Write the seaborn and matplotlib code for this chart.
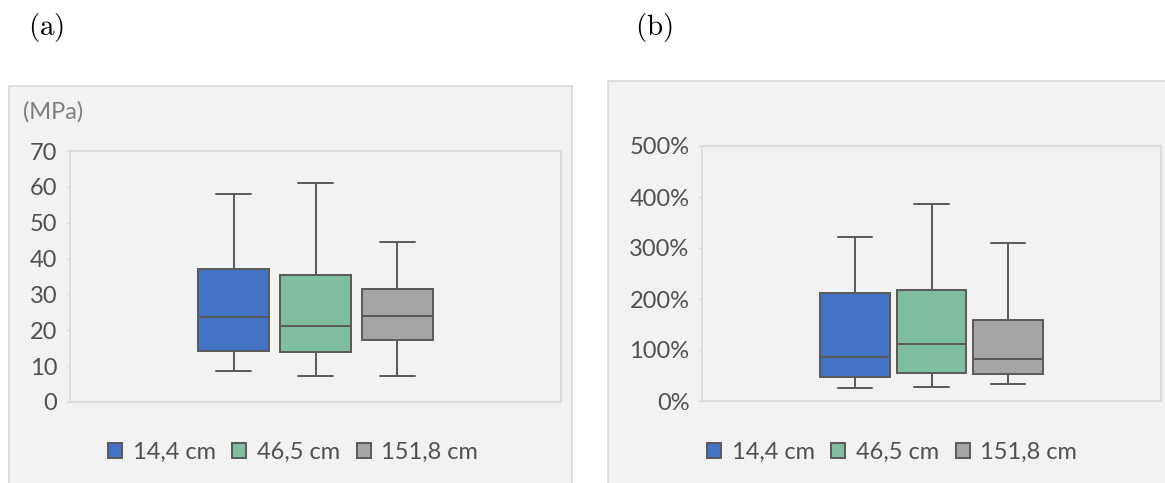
import matplotlib
matplotlib.use("Agg")
import matplotlib.pyplot as plt
from matplotlib.patches import Rectangle
from matplotlib.ticker import FuncFormatter
import numpy as np
import pandas as pd
import seaborn as sns

# Five-number summaries (min, Q1, median, Q3, max) per specimen length
lengths = ["14,4 cm", "46,5 cm", "151,8 cm"]
strength_mpa = {
    "14,4 cm": [8.7, 14.1, 23.6, 37.1, 58.0],
    "46,5 cm": [7.3, 14.0, 21.3, 35.3, 61.0],
    "151,8 cm": [7.3, 17.4, 24.1, 31.5, 44.5],
}
strain_pct = {
    "14,4 cm": [26, 48, 86, 212, 321],
    "46,5 cm": [28, 54, 111, 218, 386],
    "151,8 cm": [33, 53, 82, 159, 310],
}
strength_ticks = [0, 10, 20, 30, 40, 50, 60, 70]
strain_ticks = [0, 100, 200, 300, 400, 500]

palette = {"14,4 cm": "#4472C4", "46,5 cm": "#80BD9E", "151,8 cm": "#A5A5A5"}
EDGE = "#595959"
PANEL = "#F2F2F2"
BORDER = "#D9D9D9"
TEXT = "#505050"
FONT = ["Lato", "DejaVu Sans"]

sns.set_theme(style="white")
plt.rcParams["font.family"] = FONT
plt.rcParams["mathtext.fontset"] = "cm"

W, H = 1165, 483
fig = plt.figure(figsize=(W / 100, H / 100), dpi=100)
fig.patch.set_facecolor("white")


def px_rect(x0, y0, x1, y1):
    return [x0 / W, 1 - y1 / H, (x1 - x0) / W, (y1 - y0) / H]


def long_frame(summary):
    rows = []
    for name in lengths:
        for v in summary[name]:
            rows.append({"grp": "", "length": name, "value": v})
    return pd.DataFrame(rows)


# Panel backgrounds, kept beneath the axes
for x0, y0, x1, y1 in [(9, 86, 572, 495), (608, 81, 1175, 495)]:
    l, b, w, h = px_rect(x0, y0, x1, y1)
    fig.patches.append(Rectangle((l, b), w, h, transform=fig.transFigure,
                                 facecolor=PANEL, edgecolor=BORDER, lw=1.2,
                                 zorder=-5))


def draw_panel(rect, summary, ticks, fmt, gap, legend_x):
    ax = fig.add_axes(px_rect(*rect))
    ax.set_zorder(2)
    ax.set_facecolor(PANEL)
    sns.boxplot(data=long_frame(summary), x="grp", y="value", hue="length",
                hue_order=lengths, palette=palette, whis=(0, 100),
                width=0.5, gap=gap, linecolor=EDGE, linewidth=1.4,
                saturation=1, ax=ax)
    ax.set_ylim(ticks[0], ticks[-1])
    ax.set_xlim(-0.5, 0.5)
    ax.set_yticks(ticks)
    ax.yaxis.set_major_formatter(FuncFormatter(fmt))
    ax.set_xticks([])
    ax.set_xlabel("")
    ax.set_ylabel("")
    for s in ax.spines.values():
        s.set_visible(True)
        s.set_color(BORDER)
        s.set_linewidth(1.2)
    ax.tick_params(axis="y", left=True, length=3, width=1, color=BORDER,
                   pad=6, labelsize=17, labelcolor=TEXT)
    sns.move_legend(ax, loc="center", bbox_to_anchor=(legend_x, 0.064),
                    bbox_transform=fig.transFigure, ncol=3, frameon=False,
                    title=None, fontsize=17, handlelength=0.6,
                    handleheight=0.6, handletextpad=0.45,
                    columnspacing=0.7, labelcolor=TEXT)
    return ax


ax_a = draw_panel((70, 151, 561, 402), strength_mpa, strength_ticks,
                  lambda v, p: f"{v:.0f}", 0.13, 293 / W)
ax_b = draw_panel((702, 146, 1161, 401), strain_pct, strain_ticks,
                  lambda v, p: f"{v:.0f}%", 0.09, 892 / W)

fig.text(23 / W, 1 - 112 / H, "(MPa)", fontsize=17, color="#7F7F7F",
         ha="left", va="center")
fig.text(28 / W, 1 - 28 / H, r"$\mathrm{(a)}$", fontsize=21, color="black",
         ha="left", va="center")
fig.text(635 / W, 1 - 28 / H, r"$\mathrm{(b)}$", fontsize=21, color="black",
         ha="left", va="center")

fig.savefig("out.png", dpi=100)
